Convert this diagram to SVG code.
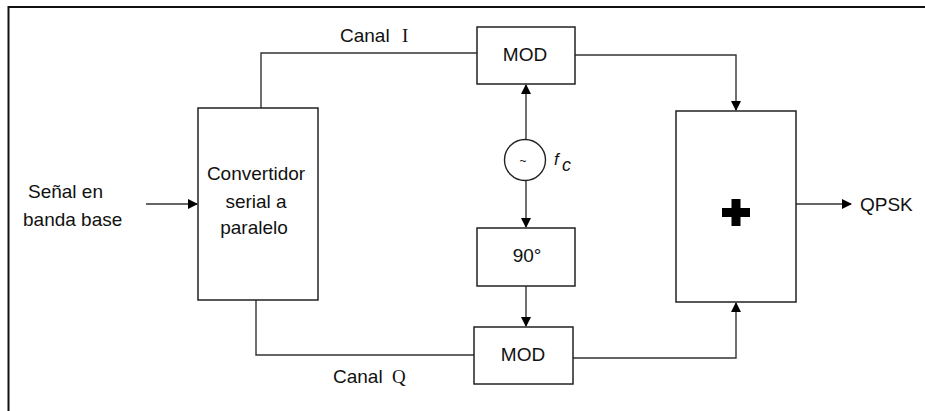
<svg xmlns="http://www.w3.org/2000/svg" width="925" height="411" viewBox="0 0 925 411">
<defs>
<marker id="arr" markerWidth="10" markerHeight="10" refX="9" refY="5" orient="auto" markerUnits="userSpaceOnUse">
<path d="M0,0 L10,5 L0,10 Z" fill="#000"/>
</marker>
</defs>
<style>
.box{fill:#fff;stroke:#222;stroke-width:1.5}
.ln{fill:none;stroke:#333;stroke-width:1.4}
.t{font-family:"Liberation Sans",Arial,sans-serif;font-size:19px;fill:#111}
.s{font-family:"Liberation Serif","Times New Roman",serif;font-size:19px;fill:#111}
.m{text-anchor:middle}
</style>
<rect width="925" height="411" fill="#fff"/>
<g id="border">
<path d="M8.5,411 V7 H925" fill="none" stroke="#111" stroke-width="2"/>
</g>
<g id="connectors">
<path class="ln" d="M146,204 H197" marker-end="url(#arr)"/>
<path class="ln" d="M261,108 V53 H477"/>
<path class="ln" d="M256,300 V355 H474"/>
<path class="ln" d="M526,140 V85" marker-end="url(#arr)"/>
<path class="ln" d="M526,181 V227" marker-end="url(#arr)"/>
<path class="ln" d="M526,286 V326" marker-end="url(#arr)"/>
<path class="ln" d="M575,55 H736 V110" marker-end="url(#arr)"/>
<path class="ln" d="M573,358 H736 V303" marker-end="url(#arr)"/>
<path class="ln" d="M796,204 H851" marker-end="url(#arr)"/>
</g>
<g id="input">
<text class="t" x="28" y="198">Señal en</text>
<text class="t" x="23" y="226">banda base</text>
</g>
<g id="convertidor">
<rect class="box" x="198" y="108" width="120" height="192"/>
<text class="t m" x="256" y="180">Convertidor</text>
<text class="t m" x="256" y="208">serial a</text>
<text class="t m" x="254" y="234">paralelo</text>
</g>
<g id="canalI">
<text class="t" x="340" y="42">Canal</text>
<text class="s" x="402" y="42">I</text>
</g>
<g id="canalQ">
<text class="t" x="333" y="383">Canal</text>
<text class="s" x="392" y="383">Q</text>
</g>
<g id="modI">
<rect class="box" x="477" y="27" width="98" height="57"/>
<text class="t m" x="525" y="61">MOD</text>
</g>
<g id="osc">
<circle cx="525" cy="160" r="20.5" fill="#fff" stroke="#222" stroke-width="1.4"/>
<text class="t m" x="523" y="165" style="font-size:12px">~</text>
<text class="t" x="554" y="165" style="font-style:italic;font-size:17px">f</text>
<text class="t" x="562" y="171" style="font-style:italic;font-size:18px">c</text>
</g>
<g id="shift90">
<rect class="box" x="477" y="228" width="98" height="58"/>
<text class="t m" x="527" y="262">90°</text>
</g>
<g id="modQ">
<rect class="box" x="474" y="327" width="99" height="57"/>
<text class="t m" x="523" y="361">MOD</text>
</g>
<g id="sum">
<rect class="box" x="676" y="111" width="120" height="191"/>
<path d="M722,208 H750 V217 H722 Z M731.5,199 H740.5 V226 H731.5 Z" fill="#000"/>
</g>
<g id="output">
<text class="t" x="860" y="211">QPSK</text>
</g>
</svg>
